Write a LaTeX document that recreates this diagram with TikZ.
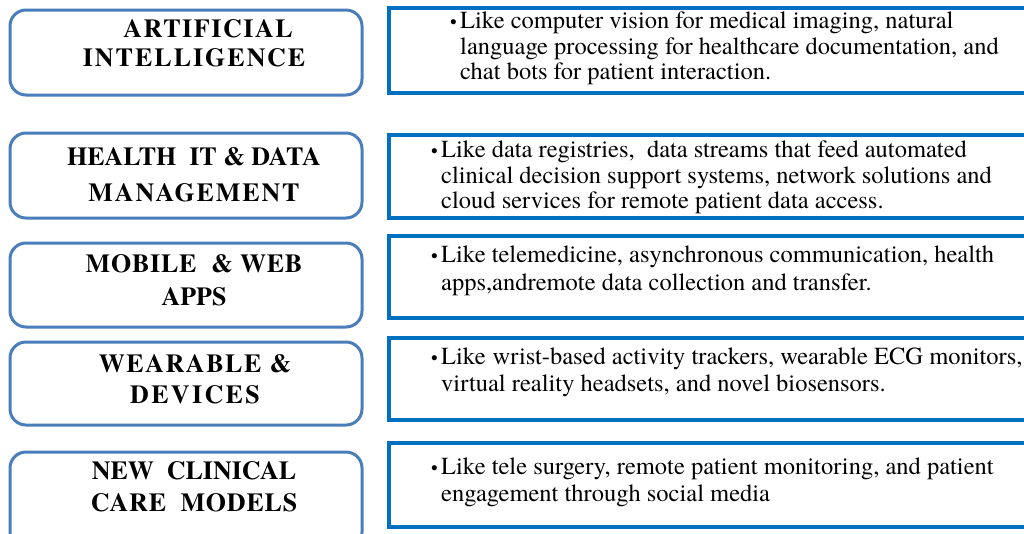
\documentclass[tikz,border=0pt]{standalone}
\usepackage{fontspec}
\setmainfont{texgyretermes}[Extension=.otf,UprightFont=*-regular,BoldFont=*-bold,ItalicFont=*-italic,BoldItalicFont=*-bolditalic]
\definecolor{lbord}{HTML}{4A7EBB}
\definecolor{rbord}{HTML}{0070C0}
\newcommand{\ls}[2]{{\addfontfeature{LetterSpace=#1}#2}}
\begin{document}
\begin{tikzpicture}[x=1pt,y=-1pt,
  lbox/.style={draw=lbord,line width=3pt,rounded corners=16pt,fill=white},
  rbox/.style={draw=rbord,line width=3.8pt,fill=white},
  ltxt/.style={anchor=base,inner sep=0pt,font=\fontsize{26}{28}\selectfont\bfseries},
  rtxt/.style={anchor=base west,inner sep=0pt,font=\fontsize{24.5}{25}\selectfont},
  btxt/.style={anchor=base west,inner sep=0pt,font=\fontsize{19}{25}\selectfont}]
\useasboundingbox (0,0) rectangle (1024,533);
\clip (0,0) rectangle (1024,533);
% left boxes
\draw[lbox] (10,10) rectangle (362,95);
\draw[lbox] (10,133) rectangle (362,218);
\draw[lbox] (10,243) rectangle (362,327);
\draw[lbox] (10,342) rectangle (362,425);
\draw[lbox] (10,452) rectangle (362,548);
% right boxes
\draw[rbox] (389,8) rectangle (1040,93);
\draw[rbox] (389,135) rectangle (1040,218);
\draw[rbox] (389,236) rectangle (1040,318);
\draw[rbox] (389,338) rectangle (1040,420);
\draw[rbox] (389,443) rectangle (1040,527);
% left texts
\node[ltxt] (l1a) at (208,37) {\ls{6}{ARTIFICIAL}};
\node[ltxt] (l1b) at (194,66) {\ls{7.7}{INTELLIGENCE}};
\node[ltxt] (l2a) at (194,165) {HEALTH\ \ IT \& DATA};
\node[ltxt] (l2b) at (194,201) {\ls{7.3}{MANAGEMENT}};
\node[ltxt] (l3a) at (194,272) {\ls{3}{MOBILE\ \ \& WEB}};
\node[ltxt] (l3b) at (194,305) {APPS};
\node[ltxt] (l4a) at (195,372) {\ls{6}{WEARABLE \&}};
\node[ltxt] (l4b) at (195,403) {\ls{9}{DEVICES}};
\node[ltxt] (l5a) at (194,479) {NEW\ \ CLINICAL};
\node[ltxt] (l5b) at (194,511) {\ls{3}{CARE\ \ MODELS}};
% right texts
\node[btxt] (b1) at (450,28) {•};
\node[rtxt] (r1a) at (460,28) {Like computer vision for medical imaging, natural};
\node[rtxt] (r1b) at (460,54) {language processing for healthcare documentation, and};
\node[rtxt] (r1c) at (460,79) {chat bots for patient interaction.};
\node[btxt] (b2) at (431,157) {•};
\node[rtxt] (r2a) at (441,157) {Like data registries,\ \ data streams that feed automated};
\node[rtxt] (r2b) at (441,183) {clinical decision support systems, network solutions and};
\node[rtxt] (r2c) at (441,208) {cloud services for remote patient data access.};
\node[btxt] (b3) at (431,262) {•};
\node[rtxt] (r3a) at (441,262) {Like telemedicine, asynchronous communication, health};
\node[rtxt] (r3b) at (441,290) {apps,andremote data collection and transfer.};
\node[btxt] (b4) at (431,364) {•};
\node[rtxt] (r4a) at (441,364) {Like\ \hspace{1pt}wrist-based activity trackers, wearable ECG monitors,};
\node[rtxt] (r4b) at (441,391) {virtual reality headsets, and novel biosensors.};
\node[btxt] (b5) at (431,474) {•};
\node[rtxt] (r5a) at (441,474) {Like tele surgery, remote patient monitoring, and patient};
\node[rtxt] (r5b) at (441,501) {engagement through social media};
\end{tikzpicture}
\end{document}
